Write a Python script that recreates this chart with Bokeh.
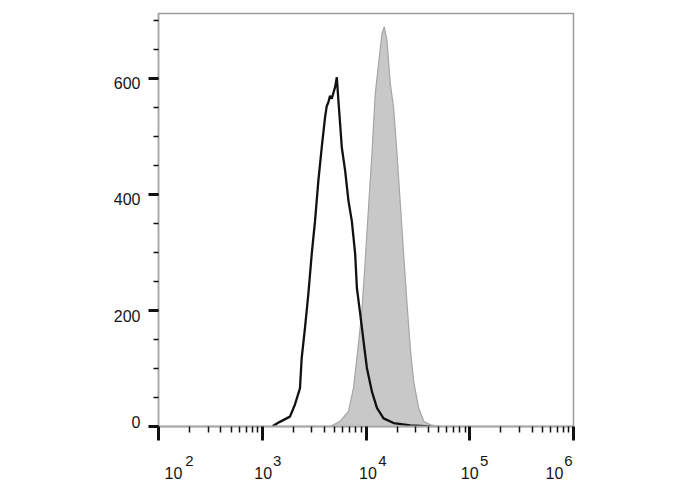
from bokeh.plotting import figure
from bokeh.models import Range1d, FixedTicker, LogAxis, LinearAxis
from bokeh.embed import file_html
from bokeh.resources import INLINE

# ---- data -------------------------------------------------------------
x_ticks = [100, 1000, 10000, 100000, 1000000]
x_tick_base = ["10", "10", "10", "10", "10"]
x_tick_exp = ["2", "3", "4", "5", "6"]
y_ticks = [0, 200, 400, 600]
y_tick_labels = ["0", "200", "400", "600"]
y_minor = [0, 50, 100, 150, 200, 250, 300, 350, 400, 450, 500, 550, 600, 650, 700]

# unstained / control (black outline)
black_x = [1250, 1324, 1480, 1849, 2067, 2310, 2399, 2582, 2780, 2998, 3226, 3474,
           3744, 4030, 4180, 4339, 4500, 4677, 4850, 5036, 5233, 5420, 5846, 6293,
           6776, 7304, 7865, 8168, 8793, 9467, 10200, 11410, 12740, 14760, 18450,
           26740, 41780]
black_y = [0, 3, 8, 17, 38, 66, 118, 170, 228, 297, 354, 424,
           481, 533, 552, 559, 570, 565, 575, 585, 602, 562, 481, 441,
           389, 354, 297, 239, 194, 147, 101, 60, 32, 14, 6,
           2, 0]

# stained sample (grey filled)
gray_x = [4508, 5626, 6776, 7568, 8459, 9124, 9820, 10570, 11410, 12270, 13210,
          14250, 14990, 15920, 17140, 18450, 19900, 21420, 23060, 24880, 26740,
          28790, 32180, 35970, 41780, 52240]
gray_y = [0, 9, 26, 66, 142, 199, 285, 377, 470, 573, 625,
          677, 689, 666, 591, 550, 470, 384, 297, 211, 135,
          78, 32, 9, 3, 0]

# ---- layout / style -----------------------------------------------------
FONT = "Liberation Sans"
TXT = "#151515"
FRAME_W, FRAME_H = 415, 413
X_START, X_END = 100, 1e6
Y_START, Y_END = 0, 712

# horizontal shift (px) of the "10" and of the exponent of each x tick label,
# vertical shift (px, + = down) of each y tick label -- as placed in the original
base_shift_px = [15, 1, 2, 0, -19]
exp_shift_px = [31, 15, 16.5, 14.5, -5]
y_shift_px = [-5, 6, 5, 5]

px_per_decade = FRAME_W / 4.0
px_per_unit = FRAME_H / (Y_END - Y_START)

p = figure(frame_width=FRAME_W, frame_height=FRAME_H,
           x_axis_type="log", x_range=Range1d(X_START, X_END),
           y_range=Range1d(Y_START, Y_END),
           output_backend="svg", toolbar_location=None,
           min_border_left=158, min_border_right=107,
           min_border_top=13, min_border_bottom=56)

p.background_fill_color = "white"
p.border_fill_color = "white"
p.xgrid.visible = False
p.ygrid.visible = False
p.outline_line_color = "#9a9a9a"
p.outline_line_width = 1.5

p.varea(x=gray_x, y1=0, y2=gray_y, fill_color="#c8c8c8")
p.line(gray_x, gray_y, line_color="#a5a5a5", line_width=1.2)
p.line(black_x, black_y, line_color="#111111", line_width=2.3)


def label_only(axis, standoff, size):
    axis.axis_line_color = None
    axis.major_tick_line_color = None
    axis.minor_tick_line_color = None
    axis.major_tick_out = 0
    axis.major_tick_in = 0
    axis.minor_tick_out = 0
    axis.minor_tick_in = 0
    axis.major_label_standoff = standoff
    axis.major_label_text_font = FONT
    axis.major_label_text_font_size = size
    axis.major_label_text_color = TXT


# ---- x axis: ticks ------------------------------------------------------
x_minor = [k * 10 ** n for n in range(2, 6) for k in range(2, 10)]
xa = p.xaxis[0]
xa.ticker = FixedTicker(ticks=x_ticks, minor_ticks=x_minor)
xa.major_label_overrides = {t: "" for t in x_ticks}
xa.major_label_standoff = 0
xa.axis_line_color = "#a8a8a8"
xa.axis_line_width = 2
xa.major_tick_line_color = "#111111"
xa.major_tick_line_width = 3
xa.major_tick_out = 14
xa.major_tick_in = 0
xa.minor_tick_line_color = "#111111"
xa.minor_tick_line_width = 1.5
xa.minor_tick_out = 6
xa.minor_tick_in = 0

# x tick labels: "10" ...
base_pos = [t * 10 ** (s / px_per_decade) for t, s in zip(x_ticks, base_shift_px)]
xb = LogAxis(ticker=FixedTicker(ticks=base_pos, minor_ticks=[]),
             major_label_overrides=dict(zip(base_pos, x_tick_base)))
label_only(xb, 26, "16px")
p.add_layout(xb, "below")

# ... and the exponent, raised
exp_pos = [t * 10 ** (s / px_per_decade) for t, s in zip(x_ticks, exp_shift_px)]
xc = LogAxis(ticker=FixedTicker(ticks=exp_pos, minor_ticks=[]),
             major_label_overrides=dict(zip(exp_pos, x_tick_exp)))
label_only(xc, -26, "15px")
p.add_layout(xc, "below")

# ---- y axis: ticks ------------------------------------------------------
ya = p.yaxis[0]
ya.ticker = FixedTicker(ticks=y_ticks, minor_ticks=y_minor)
ya.major_label_overrides = {t: "" for t in y_ticks}
ya.major_label_standoff = 0
ya.axis_line_color = "#a8a8a8"
ya.axis_line_width = 1.5
ya.major_tick_line_color = "#111111"
ya.major_tick_line_width = 3
ya.major_tick_out = 10
ya.major_tick_in = 0
ya.minor_tick_line_color = "#111111"
ya.minor_tick_line_width = 1.5
ya.minor_tick_out = 5
ya.minor_tick_in = 0

# y tick labels
y_pos = [t - s / px_per_unit for t, s in zip(y_ticks, y_shift_px)]
yb = LinearAxis(ticker=FixedTicker(ticks=y_pos, minor_ticks=[]),
                major_label_overrides=dict(zip(y_pos, y_tick_labels)))
label_only(yb, 8, "16px")
p.add_layout(yb, "left")

open("out.html", "w").write(file_html(p, INLINE))
